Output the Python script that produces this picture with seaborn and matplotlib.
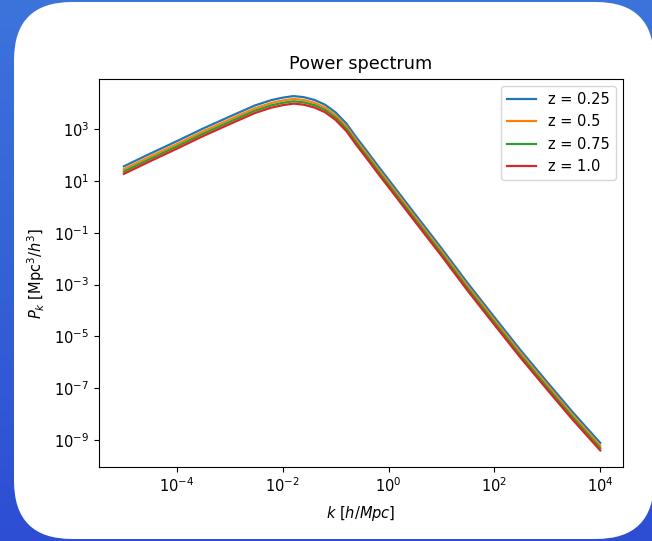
import numpy as np
import pandas as pd
import matplotlib
matplotlib.use("Agg")
import matplotlib.pyplot as plt
from matplotlib.patches import FancyBboxPatch
import seaborn as sns

# ---- data (k in h/Mpc, log10 of P_k in Mpc^3/h^3) ----
k_values = [1e-5, 3e-5, 1e-4, 3e-4, 1e-3, 3e-3, 6e-3, 0.01, 0.016, 0.025, 0.04,
            0.063, 0.1, 0.16, 0.25, 0.4, 0.63, 1.0, 3.0, 10.0, 30.0, 100.0, 300.0,
            1000.0, 3000.0, 10000.0]
log10_pk_z025 = [1.56, 2.03, 2.53, 3.00, 3.48, 3.91, 4.11, 4.21, 4.27, 4.23, 4.12,
                 3.94, 3.64, 3.21, 2.66, 2.12, 1.58, 1.05, -0.22, -1.60, -2.90, -4.26,
                 -5.49, -6.77, -7.92, -9.11]
log10_pk_z050 = [1.45, 1.92, 2.42, 2.89, 3.37, 3.80, 4.00, 4.10, 4.16, 4.12, 4.01,
                 3.83, 3.53, 3.10, 2.55, 2.01, 1.47, 0.94, -0.33, -1.71, -3.01, -4.37,
                 -5.60, -6.88, -8.03, -9.22]
log10_pk_z075 = [1.36, 1.83, 2.33, 2.80, 3.28, 3.71, 3.91, 4.01, 4.07, 4.03, 3.92,
                 3.74, 3.44, 3.01, 2.46, 1.92, 1.38, 0.85, -0.42, -1.80, -3.10, -4.46,
                 -5.69, -6.97, -8.12, -9.31]
log10_pk_z100 = [1.27, 1.74, 2.24, 2.71, 3.19, 3.62, 3.82, 3.92, 3.98, 3.94, 3.83,
                 3.65, 3.35, 2.92, 2.37, 1.83, 1.29, 0.76, -0.51, -1.89, -3.19, -4.55,
                 -5.78, -7.06, -8.21, -9.40]
series_labels = ["z = 0.25", "z = 0.5", "z = 0.75", "z = 1.0"]

# ---- long-form table ----
frames = []
for lab, lp in zip(series_labels, [log10_pk_z025, log10_pk_z050, log10_pk_z075, log10_pk_z100]):
    frames.append(pd.DataFrame({"k": k_values, "Pk": np.power(10.0, lp), "z": lab}))
df = pd.concat(frames, ignore_index=True)

W, H = 652, 541
fig = plt.figure(figsize=(W / 100, H / 100), dpi=100)

# background: blue gradient with white rounded card
bg = fig.add_axes([0, 0, 1, 1], zorder=-5)
top = np.array([0x3c, 0x74, 0xdc]) / 255
bot = np.array([0x2d, 0x4e, 0xd3]) / 255
t = np.linspace(0, 1, 256)[:, None]
grad = (top[None, :] * (1 - t) + bot[None, :] * t)[:, None, :]
bg.imshow(grad, aspect="auto", extent=[0, W, 0, H], origin="upper")
bg.add_patch(FancyBboxPatch((14, 2), 640, 537,
                            boxstyle="round,pad=0,rounding_size=58",
                            facecolor="white", edgecolor="none"))
bg.set_xlim(0, W)
bg.set_ylim(0, H)
bg.axis("off")

ax = fig.add_axes([99 / W, 1 - 467 / H, (623 - 99) / W, (467 - 79) / H])
palette = sns.color_palette("tab10", 4)
sns.lineplot(data=df, x="k", y="Pk", hue="z", palette=palette, ax=ax,
             linewidth=1.6, estimator=None, sort=False)
ax.set_xscale("log")
ax.set_yscale("log")
ax.set_xlim(10 ** -5.47, 10 ** 4.43)
ax.set_ylim(10 ** -10.04, 10 ** 4.93)
ax.set_xticks([1e-4, 1e-2, 1e0, 1e2, 1e4])
ax.set_yticks([1e-9, 1e-7, 1e-5, 1e-3, 1e-1, 1e1, 1e3])
ax.minorticks_off()
ax.tick_params(labelsize=10.5, length=3.5)
ax.set_title("Power spectrum", fontsize=12.7, pad=7)
ax.set_xlabel(r"$k$ [$h/Mpc$]", fontsize=10.5, labelpad=6)
ax.set_ylabel(r"$P_k$ [Mpc$^3$/$h^3$]", fontsize=10.5, labelpad=5)
ax.legend(loc="upper right", fontsize=10.5, title=None)

fig.savefig("out.png", dpi=100)
